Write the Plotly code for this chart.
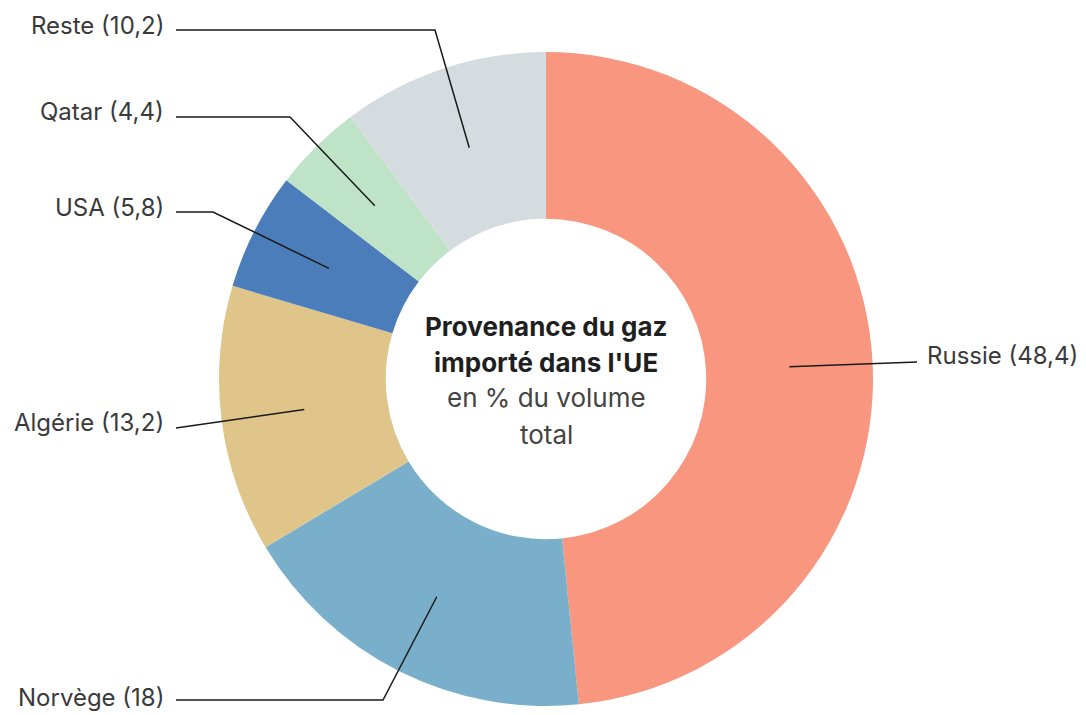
import math
import plotly.graph_objects as go

# Data
countries = ["Russie", "Norvège", "Algérie", "USA", "Qatar", "Reste"]
values = [48.4, 18, 13.2, 5.8, 4.4, 10.2]
value_labels = ["48,4", "18", "13,2", "5,8", "4,4", "10,2"]
colors = ["#F9967F", "#7AAFCB", "#E0C58B", "#4B7DBB", "#BEE3C7", "#D5DCDF"]

# page offset of the figure (browser body margin)
OFF = 8
W, H = 1086 - OFF, 715 - OFF
CX, CY, R, HOLE = 546 - OFF, 379 - OFF, 327, 0.49

# label layout in page pixels: (side, label y, elbow x or None)
label_layout = {
    "Russie": ("right", 355, None),
    "Norvège": ("left", 697, 383),
    "Algérie": ("left", 423, None),
    "USA": ("left", 207, 213),
    "Qatar": ("left", 112, 290),
    "Reste": ("left", 26, 435),
}
line_y = {"Russie": 362, "Norvège": 700, "Algérie": 428, "USA": 212, "Qatar": 117, "Reste": 30}

fig = go.Figure(go.Pie(
    labels=countries, values=values, sort=False, direction="clockwise",
    rotation=0, hole=HOLE, textinfo="none", hoverinfo="label+value",
    marker=dict(colors=colors, line=dict(width=0)),
    domain=dict(x=[(CX - R) / W, (CX + R) / W], y=[(H - CY - R) / H, (H - CY + R) / H]),
    showlegend=False,
))

def px(x):
    return (x - OFF) / W

def py(y):
    return 1 - (y - OFF) / H

total = sum(values)
cum = 0.0
ring_r = R * (1 + HOLE) / 2
shapes = []
annotations = []
for name, v, lab in zip(countries, values, value_labels):
    mid = (cum + v / 2) / total * 2 * math.pi
    cum += v
    ax = CX + OFF + ring_r * math.sin(mid)
    ay = CY + OFF - ring_r * math.cos(mid)
    side, ly, elbow = label_layout[name]
    lyl = line_y[name]
    if side == "left":
        pts = [(ax, ay)]
        if elbow is not None:
            pts.append((elbow, lyl))
        pts.append((176, lyl))
        tx, anchor = 166, "right"
    else:
        pts = [(ax, ay), (917, lyl)]
        tx, anchor = 925, "left"
    path = "M " + " L ".join(f"{px(x):.5f},{py(y):.5f}" for x, y in pts)
    shapes.append(dict(type="path", xref="paper", yref="paper", path=path,
                       line=dict(color="#1a1a1a", width=1.5)))
    annotations.append(dict(x=px(tx), y=py(ly), xref="paper", yref="paper",
                            text=f"{name} ({lab})", showarrow=False,
                            xanchor=anchor, yanchor="middle",
                            font=dict(size=24, color="#3a3a3a", family="Inter")))

center_lines = [("<b>Provenance du gaz</b>", "#1f1f1f", 326),
                ("<b>importé dans l'UE</b>", "#1f1f1f", 362),
                ("en % du volume", "#444444", 398),
                ("total", "#444444", 434)]
for txt, col, y in center_lines:
    annotations.append(dict(x=px(CX + OFF), y=py(y), xref="paper", yref="paper", text=txt,
                            showarrow=False, xanchor="center", yanchor="middle",
                            font=dict(size=26, color=col, family="Inter")))

fig.update_layout(width=W, height=H, margin=dict(l=0, r=0, t=0, b=0),
                  paper_bgcolor="white", plot_bgcolor="white",
                  shapes=shapes, annotations=annotations)
fig.write_html("out.html")
